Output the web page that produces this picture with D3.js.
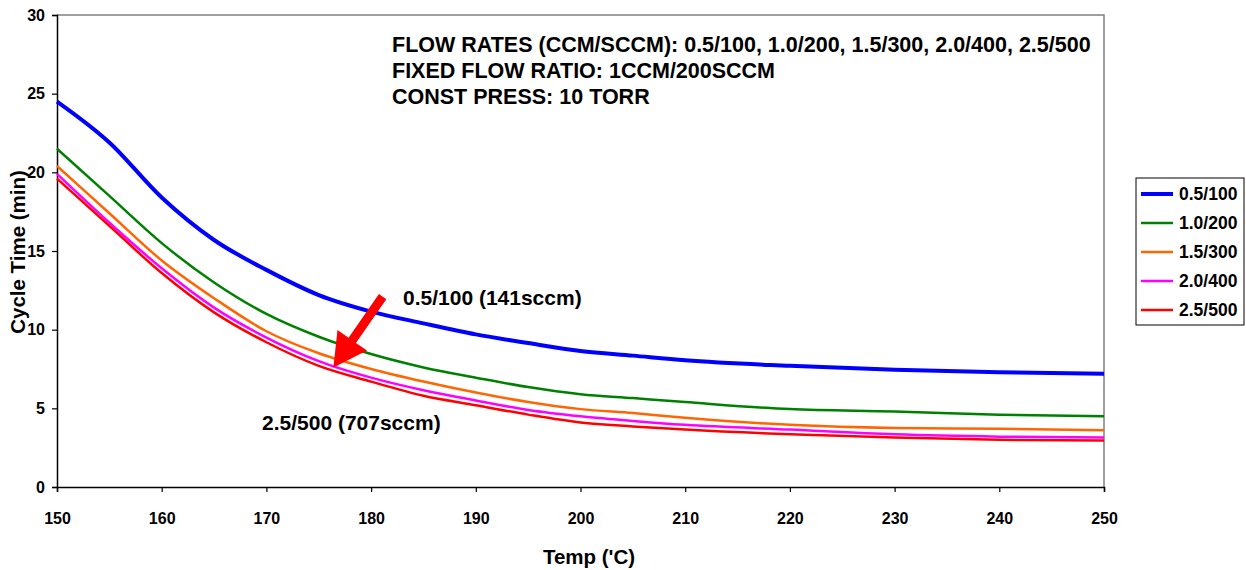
<!DOCTYPE html>
<html>
<head>
<meta charset="utf-8">
<script src="https://cdn.jsdelivr.net/npm/d3@7"></script>
<style>
  body { margin: 0; background: #fff; }
  text { font-family: "Liberation Sans", Arial, sans-serif; font-weight: bold; }
</style>
</head>
<body>
<svg></svg>
<script>
const temps = [150, 155, 160, 165, 170, 175, 180, 185, 190, 195, 200, 205, 210, 220, 230, 240, 250];
const series = ["0.5/100", "1.0/200", "1.5/300", "2.0/400", "2.5/500"];
const blue    = [24.5, 21.9, 18.4, 15.7, 13.8, 12.2, 11.15, 10.4, 9.7, 9.15, 8.65, 8.35, 8.05, 7.7, 7.45, 7.3, 7.2];
const green   = [21.5, 18.5, 15.5, 13.0, 11.0, 9.55, 8.45, 7.6, 6.95, 6.35, 5.9, 5.65, 5.4, 4.95, 4.8, 4.6, 4.5];
const orange  = [20.4, 17.4, 14.4, 12.0, 9.9, 8.5, 7.5, 6.7, 6.0, 5.4, 4.95, 4.7, 4.4, 3.95, 3.75, 3.7, 3.6];
const magenta = [19.9, 16.8, 13.9, 11.4, 9.5, 8.0, 6.95, 6.15, 5.5, 4.9, 4.5, 4.2, 3.95, 3.65, 3.35, 3.2, 3.15];
const red     = [19.6, 16.6, 13.6, 11.1, 9.2, 7.7, 6.7, 5.8, 5.2, 4.6, 4.1, 3.85, 3.65, 3.35, 3.15, 3.0, 2.95];
const values = [blue, green, orange, magenta, red];
const colors = ["#0000ff", "#008000", "#ff6600", "#ff00ff", "#ff0000"];
const widths = [4, 2.5, 2.5, 2.5, 2.5];
const xTicks = [150, 160, 170, 180, 190, 200, 210, 220, 230, 240, 250];
const yTicks = [0, 5, 10, 15, 20, 25, 30];
const notes = ["FLOW RATES (CCM/SCCM): 0.5/100, 1.0/200, 1.5/300, 2.0/400, 2.5/500",
               "FIXED FLOW RATIO: 1CCM/200SCCM",
               "CONST PRESS: 10 TORR"];

let width = 1246, height = 570;
let plotLeft = 57, plotRight = 1104, plotTop = 15, plotBottom = 487;

const svg = d3.select("svg").attr("width", width).attr("height", height);

const xScale = d3.scaleLinear().domain([150, 250]).range([plotLeft, plotRight]);
const yScale = d3.scaleLinear().domain([0, 30]).range([plotBottom, plotTop]);

// plot frame (top and right)
svg.append("path")
  .attr("d", `M${plotLeft},${plotTop}H${plotRight}V${plotBottom}`)
  .attr("fill", "none").attr("stroke", "#808080").attr("stroke-width", 1.5);

const yAxis = svg.append("g")
  .attr("transform", `translate(${plotLeft},0)`)
  .call(d3.axisLeft(yScale).tickValues(yTicks).tickSize(5).tickPadding(7));
const xAxis = svg.append("g")
  .attr("transform", `translate(0,${plotBottom})`)
  .call(d3.axisBottom(xScale).tickValues(xTicks).tickSize(5).tickPadding(21));

[xAxis, yAxis].forEach(g => {
  g.select(".domain").attr("stroke", "#000").attr("stroke-width", 1.5);
  g.selectAll(".tick line").attr("stroke", "#000").attr("stroke-width", 1.2);
  g.selectAll("text").attr("font-size", 16).attr("fill", "#000")
    .style("font-family", "'Liberation Sans', Arial, sans-serif").style("font-weight", "bold");
});

svg.append("text").attr("x", 589).attr("y", 564).attr("text-anchor", "middle")
  .attr("font-size", 20.5).text("Temp ('C)");
svg.append("text").attr("transform", "translate(25,252) rotate(-90)").attr("text-anchor", "middle")
  .attr("font-size", 20.5).text("Cycle Time (min)");

const line = d3.line()
  .x((d, i) => xScale(temps[i]))
  .y(d => yScale(d))
  .curve(d3.curveMonotoneX);

svg.selectAll(".series")
  .data(values)
  .enter()
  .append("path")
  .attr("class", "series")
  .attr("d", d => line(d))
  .attr("fill", "none")
  .attr("stroke", (d, i) => colors[i])
  .attr("stroke-width", (d, i) => widths[i])
  .attr("stroke-linejoin", "round");

// notes block
svg.selectAll(".note")
  .data(notes)
  .enter()
  .append("text")
  .attr("class", "note")
  .attr("x", 392)
  .attr("y", (d, i) => 52 + i * 26)
  .attr("font-size", 21.5)
  .text(d => d);

svg.append("text").attr("x", 403).attr("y", 305).attr("font-size", 21).text("0.5/100 (141sccm)");
svg.append("text").attr("x", 262).attr("y", 430).attr("font-size", 21).text("2.5/500 (707sccm)");

// arrow
const tail = [xScale(181.1), yScale(12.1)];
const tip = [xScale(176.4), yScale(7.6)];
const ang = Math.atan2(tip[1] - tail[1], tip[0] - tail[0]);
const headLen = 33, headHalf = 18, shaft = 4.5;
const ux = Math.cos(ang), uy = Math.sin(ang), nx = -uy, ny = ux;
const base = [tip[0] - ux * headLen, tip[1] - uy * headLen];
const pts = [
  [tail[0] + nx * shaft, tail[1] + ny * shaft],
  [base[0] + nx * shaft, base[1] + ny * shaft],
  [base[0] + nx * headHalf, base[1] + ny * headHalf],
  tip,
  [base[0] - nx * headHalf, base[1] - ny * headHalf],
  [base[0] - nx * shaft, base[1] - ny * shaft],
  [tail[0] - nx * shaft, tail[1] - ny * shaft]
];
svg.append("polygon").attr("points", pts.map(p => p.join(",")).join(" ")).attr("fill", "#ff0000");

// legend
const legend = svg.append("g").attr("transform", "translate(1136,178)");
legend.append("rect").attr("width", 108).attr("height", 147)
  .attr("fill", "#fff").attr("stroke", "#000").attr("stroke-width", 1);
const rows = legend.selectAll(".row").data(series).enter().append("g")
  .attr("transform", (d, i) => `translate(0,${16 + i * 29})`);
rows.append("line").attr("x1", 5).attr("x2", 37)
  .attr("stroke", (d, i) => colors[i]).attr("stroke-width", (d, i) => widths[i]);
rows.append("text").attr("x", 43).attr("dy", "0.35em").attr("font-size", 17.5).text(d => d);
</script>
</body>
</html>
